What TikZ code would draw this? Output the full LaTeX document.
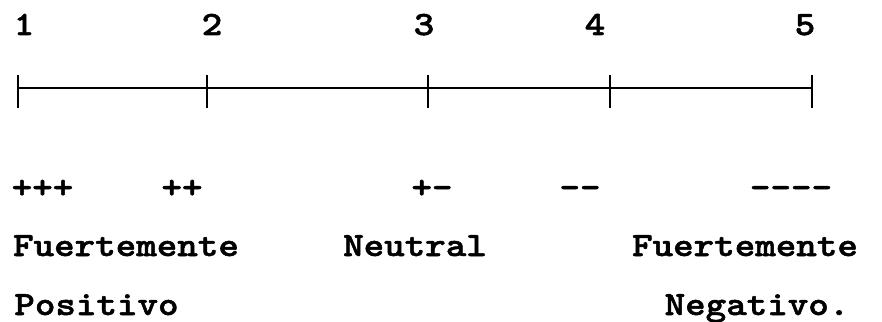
\documentclass[tikz,border=0pt]{standalone}
\usepackage{fontspec}
\newfontfamily\reffont[FakeStretch=1.15,FakeBold=1.5]{lmmonolt10-bold.otf}
\begin{document}
\begin{tikzpicture}[x=1pt,y=-1pt,
  lbl/.style={font=\reffont\fontsize{34}{36}\selectfont, inner sep=0pt, anchor=base, text=black},
  axis/.style={line width=2pt, black},
  tick/.style={line width=2pt, black}]
\useasboundingbox (0,0) rectangle (882,321);
% tick positions
\coordinate (t1) at (18,88);
\coordinate (t2) at (207,88);
\coordinate (t3) at (428,88);
\coordinate (t4) at (610,88);
\coordinate (t5) at (812,88);
\draw[axis] (t1) -- (t5);
\foreach \t in {t1,t2,t3,t4,t5}{
  \draw[tick] ([yshift=-20pt]\t) -- ([yshift=13pt]\t);
}
% numbers
\node[lbl] (n1) at (24,35) {1};
\node[lbl] (n2) at (212,35) {2};
\node[lbl] (n3) at (424,35) {3};
\node[lbl] (n4) at (595,35) {4};
\node[lbl] (n5) at (805,35) {5};
% signs
\node[lbl] (s1) at (42.5,198) {+++};
\node[lbl] (s2) at (182,198) {++};
\node[lbl] (s3) at (432,198) {+-};
\node[lbl] (s4) at (580,198) {--};
\node[lbl] (s5) at (791,198) {----};
% words
\node[lbl] (w1) at (126,256) {Fuertemente};
\node[lbl] (w2) at (415,256) {Neutral};
\node[lbl] (w3) at (745,256) {Fuertemente};
\node[lbl] (w4) at (96.5,315) {Positivo};
\node[lbl] (w5) at (757,315) {Negativo.};
\end{tikzpicture}
\end{document}
